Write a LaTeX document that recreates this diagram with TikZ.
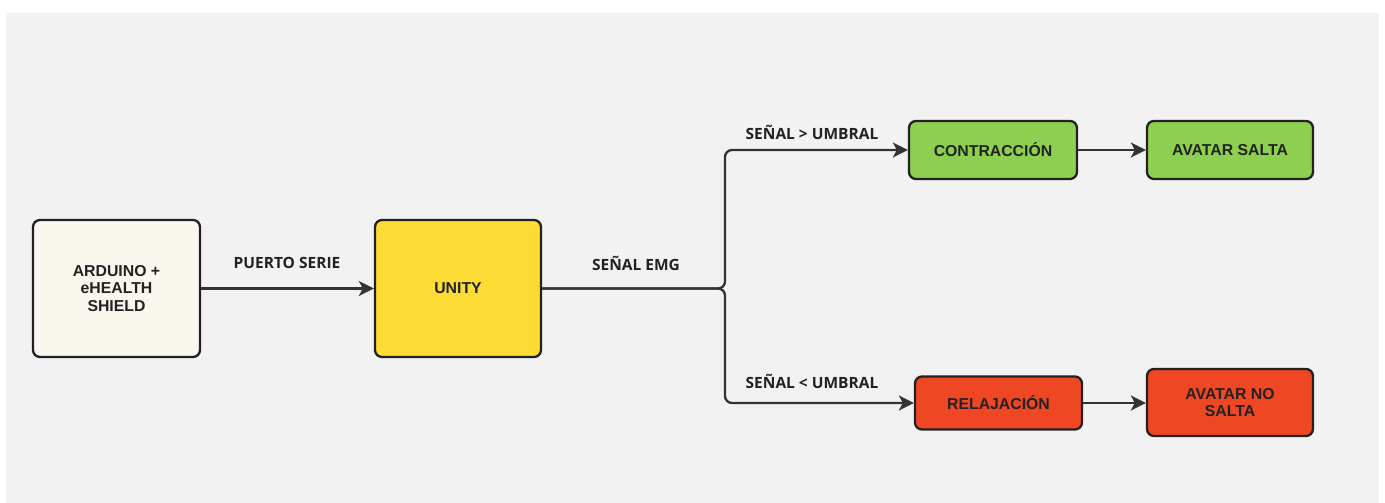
\documentclass[tikz,border=0pt]{standalone}
\usepackage{fontspec}
\setmainfont{Liberation Sans}
\newfontfamily\labelfont{Open Sans}
\usetikzlibrary{arrows.meta}
\definecolor{bggray}{HTML}{F2F2F2}
\definecolor{cream}{HTML}{FAF7EE}
\definecolor{unityyellow}{HTML}{FDDC35}
\definecolor{okgreen}{HTML}{8DD04F}
\definecolor{badred}{HTML}{EF4623}
\definecolor{edgec}{HTML}{222222}
\definecolor{linec}{HTML}{333333}
\tikzset{
  x=1pt, y=-1pt,
  box/.style={draw=edgec, line width=2.3pt, rounded corners=7pt, align=center,
    font=\bfseries\fontsize{15.8}{17.8}\selectfont, text=edgec, inner sep=0pt},
  conn/.style={draw=linec, line width=2.3pt, -{Stealth[length=15pt,width=15pt,inset=4pt]}},
  lbl/.style={font=\labelfont\bfseries\fontsize{15.5}{17}\selectfont, text=edgec},
}
\begin{document}
\begin{tikzpicture}
\useasboundingbox (0,0) rectangle (1385,503);
\fill[bggray] (6,13) rectangle (1379,503);
\node[box, fill=cream, minimum width=167pt, minimum height=137pt] (ard) at (116.5,288.5) {ARDUINO +\\eHEALTH\\SHIELD};
\node[box, fill=unityyellow, minimum width=166pt, minimum height=137pt] (unity) at (458,288.5) {UNITY};
\node[box, fill=okgreen, minimum width=168pt, minimum height=58pt] (contr) at (993,150) {CONTRACCIÓN};
\node[box, fill=okgreen, minimum width=166pt, minimum height=58pt] (salta) at (1230,150) {AVATAR SALTA};
\node[box, fill=badred, minimum width=167pt, minimum height=53pt] (relaj) at (998.5,403) {RELAJACIÓN};
\node[box, fill=badred, minimum width=166pt, minimum height=67pt] (nosalta) at (1230,402.5) {AVATAR NO\\SALTA};
\coordinate (split) at (725,288.5);
\draw[conn] (ard.east) -- (unity.west);
\draw[conn, rounded corners=7pt] (unity.east) -- (split) |- (contr.west);
\draw[conn, rounded corners=7pt] (unity.east) -- (split) |- (relaj.west);
\draw[conn] (contr.east) -- (salta.west);
\draw[conn] (relaj.east) -- (nosalta.west |- relaj.east);
\node[lbl] (l1) at (287,263) {PUERTO SERIE};
\node[lbl] (l2) at (636,263) {SEÑAL EMG};
\node[lbl] (l3) at (812,132) {SEÑAL > UMBRAL};
\node[lbl] (l4) at (812,381) {SEÑAL < UMBRAL};
\end{tikzpicture}
\end{document}
